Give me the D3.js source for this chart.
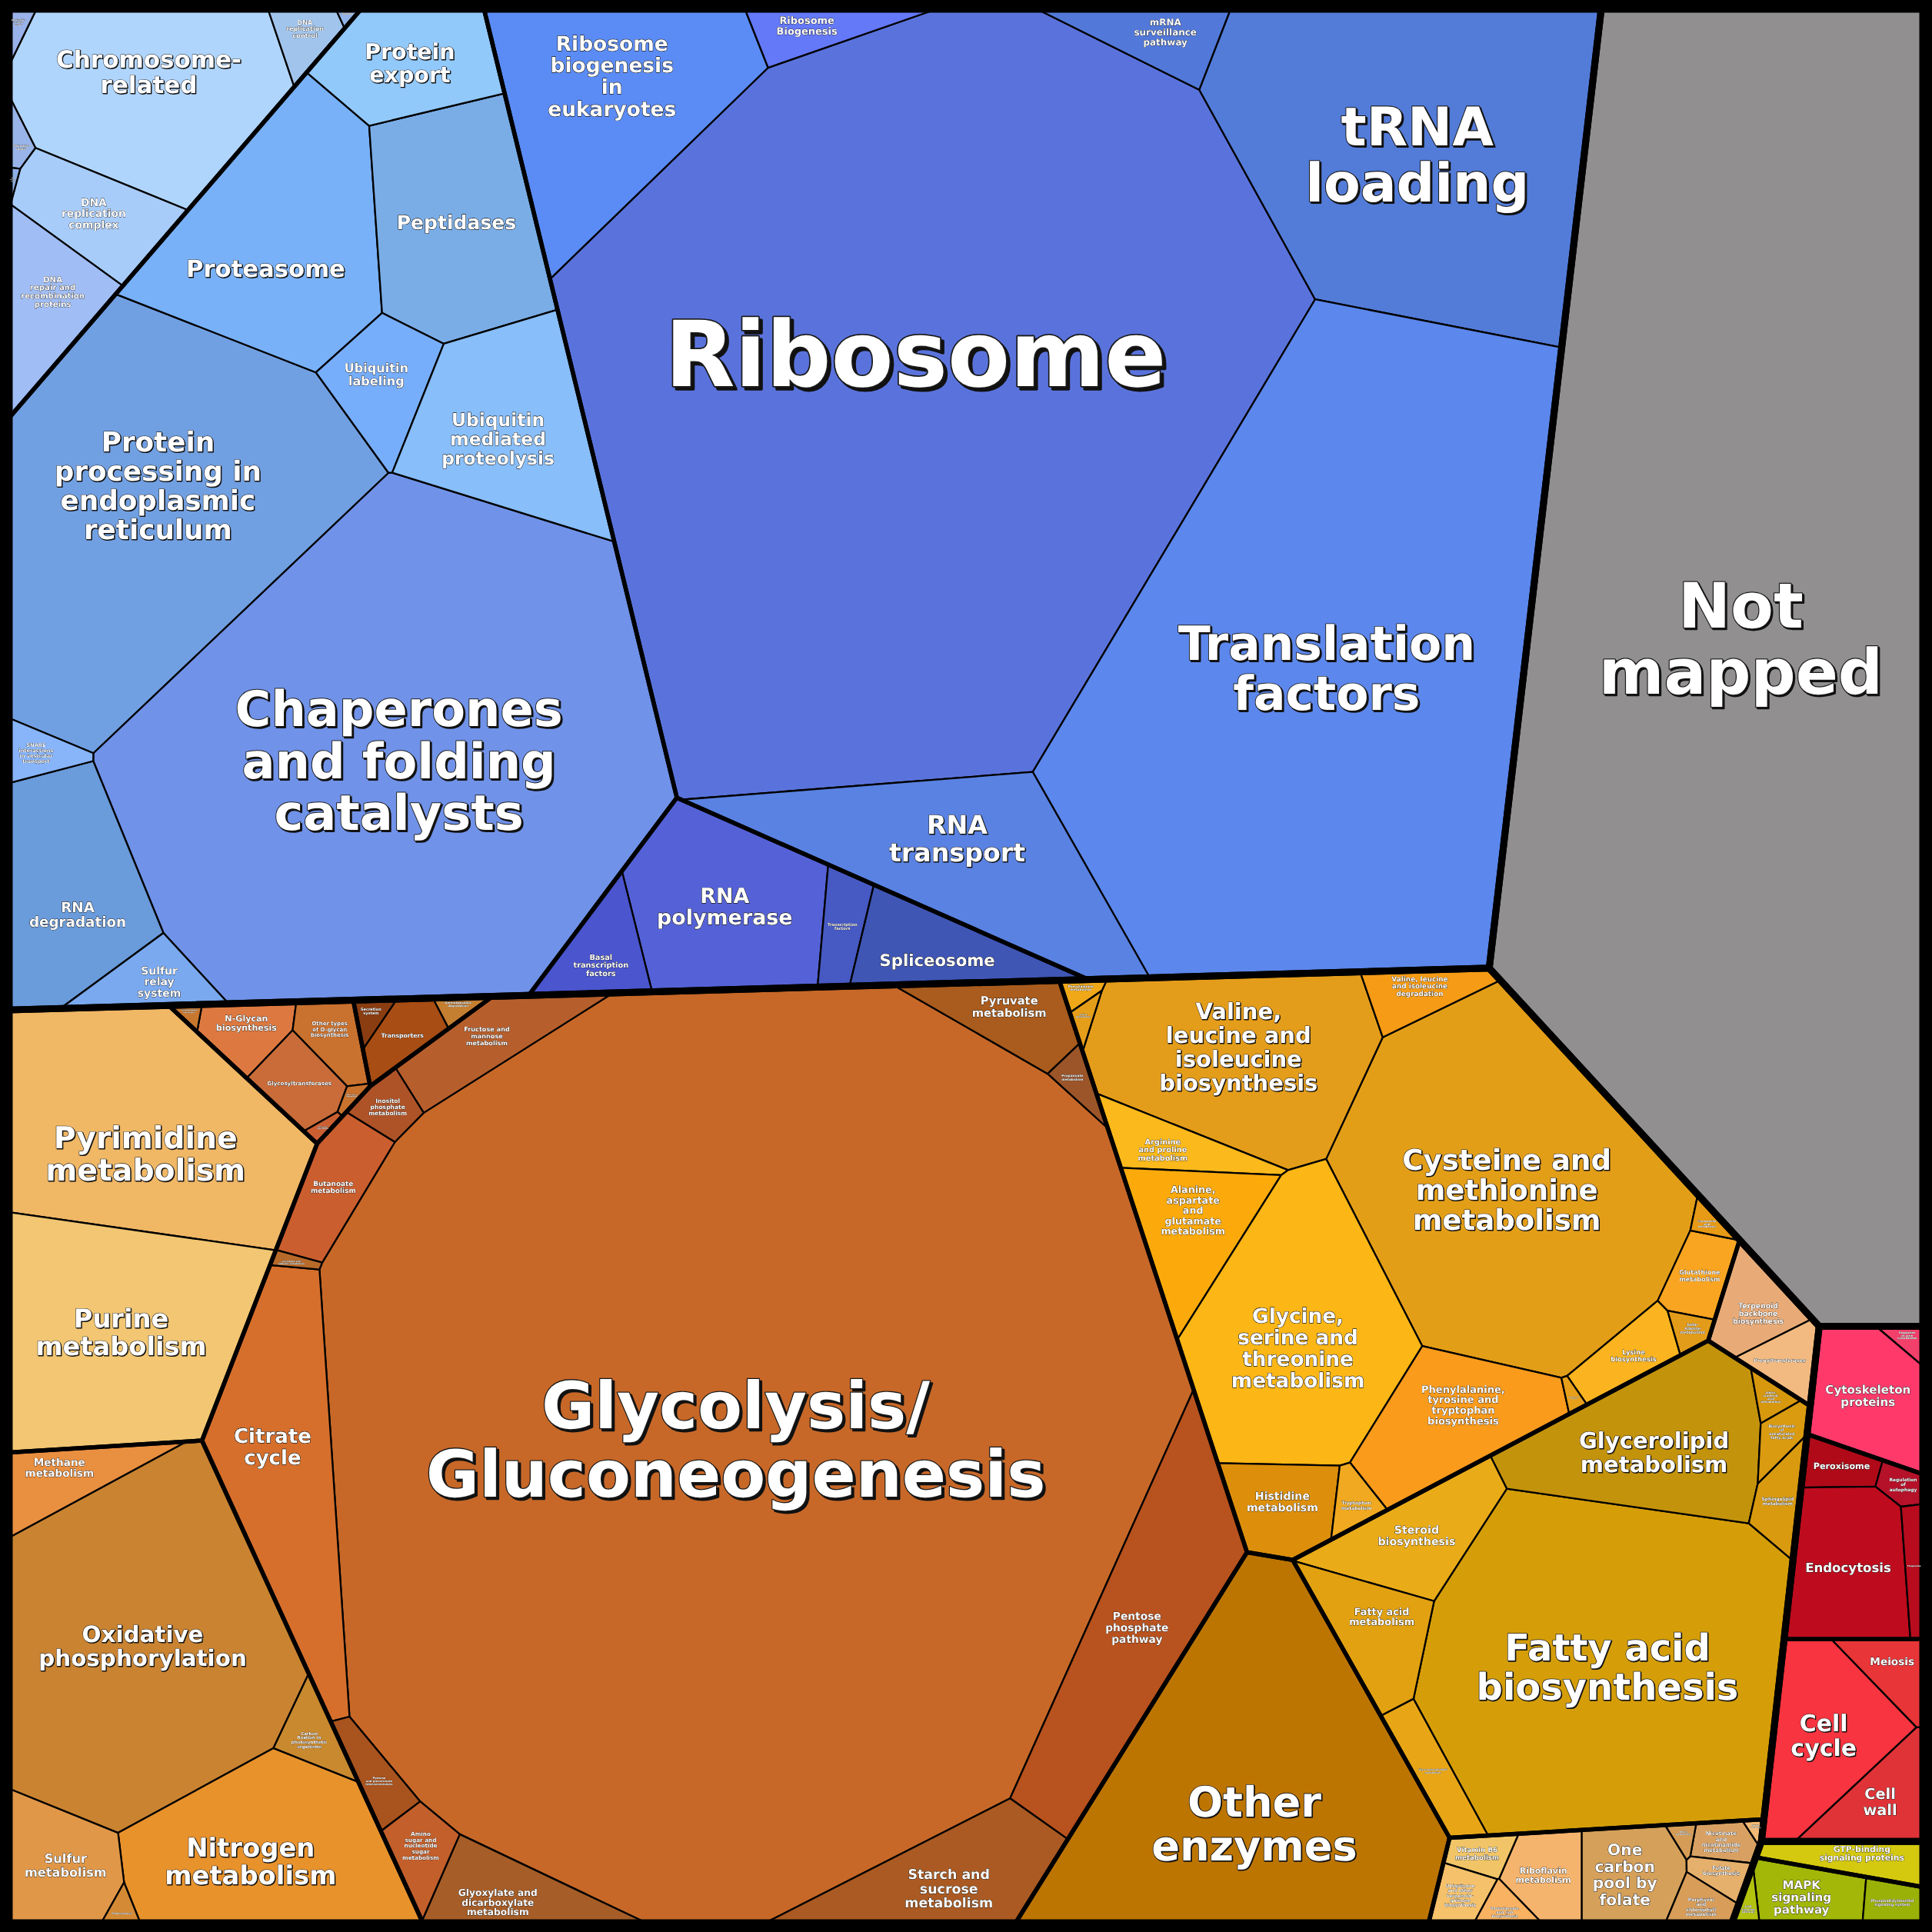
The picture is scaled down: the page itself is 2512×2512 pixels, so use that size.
<!DOCTYPE html>
<html><head><meta charset="utf-8">
<script src="https://cdn.jsdelivr.net/npm/d3@7"></script>
<style>html,body{margin:0;padding:0;background:#000;}svg{display:block}</style>
</head><body>
<svg id="chart" width="2512" height="2512"></svg>
<script>
// ---------------- DATA ----------------
const categories = ["Genetic Information Processing","Not mapped","Metabolism","Cellular Processes","Environmental Information Processing"];

const groups = [
  ["Translation","Genetic Information Processing"],
  ["Transcription","Genetic Information Processing"],
  ["Folding, sorting and degradation","Genetic Information Processing"],
  ["Replication and repair","Genetic Information Processing"],
  ["Not mapped group","Not mapped"],
  ["Carbohydrate metabolism","Metabolism"],
  ["Energy metabolism","Metabolism"],
  ["Nucleotide metabolism","Metabolism"],
  ["Glycan biosynthesis and metabolism","Metabolism"],
  ["Membrane transport","Metabolism"],
  ["Amino acid metabolism","Metabolism"],
  ["Lipid metabolism","Metabolism"],
  ["Metabolism of terpenoids and polyketides","Metabolism"],
  ["Metabolism of cofactors and vitamins","Metabolism"],
  ["Other enzymes group","Metabolism"],
  ["Cell motility","Cellular Processes"],
  ["Transport and catabolism","Cellular Processes"],
  ["Cell growth and death","Cellular Processes"],
  ["Signaling molecules and interaction","Environmental Information Processing"],
  ["Signal transduction","Environmental Information Processing"]
];

// [pathway, group, abundance (relative units)]
const pathways = [
  ["Ribosome","Translation",280],
  ["tRNA loading","Translation",69],
  ["Translation factors","Translation",165],
  ["RNA transport","Translation",29],
  ["Ribosome biogenesis in eukaryotes","Translation",29],
  ["Ribosome Biogenesis","Translation",3.6],
  ["mRNA surveillance pathway","Translation",5.1],
  ["RNA polymerase","Transcription",20],
  ["Basal transcription factors","Transcription",5],
  ["Transcription factors","Transcription",3],
  ["Spliceosome","Transcription",8],
  ["Chaperones and folding catalysts","Folding, sorting and degradation",144],
  ["Protein processing in endoplasmic reticulum","Folding, sorting and degradation",71],
  ["Proteasome","Folding, sorting and degradation",30],
  ["Peptidases","Folding, sorting and degradation",23],
  ["Protein export","Folding, sorting and degradation",11],
  ["Ubiquitin labeling","Folding, sorting and degradation",7],
  ["Ubiquitin mediated proteolysis","Folding, sorting and degradation",20],
  ["RNA degradation","Folding, sorting and degradation",18],
  ["Sulfur relay system","Folding, sorting and degradation",4],
  ["SNARE interactions in vesicular transport","Folding, sorting and degradation",2],
  ["Chromosome-related","Replication and repair",27.5],
  ["DNA replication control","Replication and repair",2.2],
  ["DNA replication complex","Replication and repair",8],
  ["DNA repair and recombination proteins","Replication and repair",8],
  ["Nucleotide excision repair","Replication and repair",0.5],
  ["Mismatch repair","Replication and repair",0.7],
  ["Base excision repair","Replication and repair",0.15],
  ["Homologous recombination","Replication and repair",0.15],
  ["Not mapped","Not mapped group",303],
  ["Glycolysis/Gluconeogenesis","Carbohydrate metabolism",420],
  ["Citrate cycle","Carbohydrate metabolism",24],
  ["Pentose phosphate pathway","Carbohydrate metabolism",25],
  ["Pyruvate metabolism","Carbohydrate metabolism",6],
  ["Starch and sucrose metabolism","Carbohydrate metabolism",12.6],
  ["Glyoxylate and dicarboxylate metabolism","Carbohydrate metabolism",6.5],
  ["Amino sugar and nucleotide sugar metabolism","Carbohydrate metabolism",3],
  ["Pentose and glucuronate interconversions","Carbohydrate metabolism",2.5],
  ["Fructose and mannose metabolism","Carbohydrate metabolism",6.7],
  ["Butanoate metabolism","Carbohydrate metabolism",5.7],
  ["Inositol phosphate metabolism","Carbohydrate metabolism",2],
  ["Propanoate metabolism","Carbohydrate metabolism",1.2],
  ["Ascorbate and aldarate metabolism","Carbohydrate metabolism",0.4],
  ["Oxidative phosphorylation","Energy metabolism",55],
  ["Nitrogen metabolism","Energy metabolism",25],
  ["Sulfur metabolism","Energy metabolism",8],
  ["Methane metabolism","Energy metabolism",5],
  ["Carbon fixation in photosynthetic organisms","Energy metabolism",2.5],
  ["Photosynthesis","Energy metabolism",0.5],
  ["Pyrimidine metabolism","Nucleotide metabolism",38],
  ["Purine metabolism","Nucleotide metabolism",33],
  ["N-Glycan biosynthesis","Glycan biosynthesis and metabolism",3.2],
  ["Other types of O-glycan biosynthesis","Glycan biosynthesis and metabolism",2.8],
  ["Glycosyltransferases","Glycan biosynthesis and metabolism",3.5],
  ["Other glycan degradation","Glycan biosynthesis and metabolism",0.3],
  ["GPI-anchor biosynthesis","Glycan biosynthesis and metabolism",0.3],
  ["Glycosphingolipid biosynthesis","Glycan biosynthesis and metabolism",0.3],
  ["Transporters","Membrane transport",2.6],
  ["Secretion system","Membrane transport",0.7],
  ["Aminobenzoate degradation","Membrane transport",0.6],
  ["Cysteine and methionine metabolism","Amino acid metabolism",62],
  ["Valine, leucine and isoleucine biosynthesis","Amino acid metabolism",29],
  ["Valine, leucine and isoleucine degradation","Amino acid metabolism",3.5],
  ["Arginine and proline metabolism","Amino acid metabolism",4.4],
  ["Alanine, aspartate and glutamate metabolism","Amino acid metabolism",9],
  ["Glycine, serine and threonine metabolism","Amino acid metabolism",32],
  ["Phenylalanine, tyrosine and tryptophan biosynthesis","Amino acid metabolism",12.9],
  ["Histidine metabolism","Amino acid metabolism",6],
  ["Tryptophan metabolism","Amino acid metabolism",1.5],
  ["Lysine biosynthesis","Amino acid metabolism",3.5],
  ["Glutathione metabolism","Amino acid metabolism",3],
  ["beta-Alanine metabolism","Amino acid metabolism",0.8],
  ["Cyanoamino acid metabolism","Amino acid metabolism",0.6],
  ["Phenylalanine metabolism","Amino acid metabolism",0.6],
  ["Lysine degradation","Amino acid metabolism",0.5],
  ["Selenocompound metabolism","Amino acid metabolism",0.3],
  ["Fatty acid biosynthesis","Lipid metabolism",70],
  ["Glycerolipid metabolism","Lipid metabolism",20],
  ["Steroid biosynthesis","Lipid metabolism",9],
  ["Fatty acid metabolism","Lipid metabolism",7],
  ["Glycerophospholipid metabolism","Lipid metabolism",3.5],
  ["Sphingolipid metabolism","Lipid metabolism",2.5],
  ["Biosynthesis of unsaturated fatty acids","Lipid metabolism",1.5],
  ["alpha-Linolenic acid metabolism","Lipid metabolism",0.8],
  ["Terpenoid backbone biosynthesis","Metabolism of terpenoids and polyketides",4],
  ["Prenyltransferases","Metabolism of terpenoids and polyketides",2.4],
  ["One carbon pool by folate","Metabolism of cofactors and vitamins",6],
  ["Riboflavin metabolism","Metabolism of cofactors and vitamins",4],
  ["Vitamin B6 metabolism","Metabolism of cofactors and vitamins",1.5],
  ["Ubiquinone and other terpenoid-quinone biosynthesis","Metabolism of cofactors and vitamins",1.8],
  ["Pantothenate and CoA biosynthesis","Metabolism of cofactors and vitamins",1],
  ["Nicotinate and nicotinamide metabolism","Metabolism of cofactors and vitamins",1.5],
  ["Folate biosynthesis","Metabolism of cofactors and vitamins",1.2],
  ["Porphyrin and chlorophyll metabolism","Metabolism of cofactors and vitamins",1.5],
  ["Biotin metabolism","Metabolism of cofactors and vitamins",0.4],
  ["Thiamine metabolism","Metabolism of cofactors and vitamins",0.2],
  ["Other enzymes","Other enzymes group",62],
  ["Cytoskeleton proteins","Cell motility",8.6],
  ["Regulation of actin cytoskeleton","Cell motility",0.6],
  ["Peroxisome","Transport and catabolism",2],
  ["Regulation of autophagy","Transport and catabolism",1],
  ["Endocytosis","Transport and catabolism",11],
  ["Phagosome","Transport and catabolism",1.5],
  ["Cell cycle","Cell growth and death",12],
  ["Meiosis","Cell growth and death",2.8],
  ["Cell wall","Cell growth and death",5],
  ["GTP-binding signaling proteins","Signaling molecules and interaction",3.2],
  ["MAPK signaling pathway","Signal transduction",3.8],
  ["Phosphatidylinositol signaling system","Signal transduction",1.5],
  ["ErbB signaling pathway","Signal transduction",0.5]
];

// ---------------- STYLE ----------------
const pathwayColor = {
  "Ribosome":"#5A73DC","tRNA loading":"#537CD9","Translation factors":"#5C87EC","RNA transport":"#5A82E2",
  "Ribosome biogenesis in eukaryotes":"#5B8CF6","Ribosome Biogenesis":"#6479F8","mRNA surveillance pathway":"#5279D9",
  "RNA polymerase":"#5562D7","Basal transcription factors":"#4A55CE","Transcription factors":"#4759C2","Spliceosome":"#3F56B5",
  "Chaperones and folding catalysts":"#7092E8","Protein processing in endoplasmic reticulum":"#71A0E2","Proteasome":"#78B1F8",
  "Peptidases":"#7AADE6","Protein export":"#92C9FB","Ubiquitin labeling":"#77AEFB","Ubiquitin mediated proteolysis":"#88BEF9",
  "RNA degradation":"#6A9BDA","Sulfur relay system":"#7AA9EF","SNARE interactions in vesicular transport":"#88B5FA",
  "Chromosome-related":"#B0D5FD","DNA replication control":"#A1C4EC","DNA replication complex":"#A8CCF9",
  "DNA repair and recombination proteins":"#A0BDF5","Nucleotide excision repair":"#9AB2EA","Mismatch repair":"#98B4E8",
  "Base excision repair":"#8FB0E6","Homologous recombination":"#92B4E8",
  "Not mapped":"#918F90",
  "Glycolysis/Gluconeogenesis":"#C76828","Citrate cycle":"#D66F2C","Pentose phosphate pathway":"#B8521E","Pyruvate metabolism":"#A95C1D",
  "Starch and sucrose metabolism":"#AA5A22","Glyoxylate and dicarboxylate metabolism":"#A65D27","Amino sugar and nucleotide sugar metabolism":"#C25F2B",
  "Pentose and glucuronate interconversions":"#A9531E","Fructose and mannose metabolism":"#B75F2C","Butanoate metabolism":"#CB5E2E",
  "Inositol phosphate metabolism":"#AE5328","Propanoate metabolism":"#9C5528","Ascorbate and aldarate metabolism":"#B86A2A",
  "Oxidative phosphorylation":"#C98331","Nitrogen metabolism":"#E8922C","Sulfur metabolism":"#E09748","Methane metabolism":"#E98F40",
  "Carbon fixation in photosynthetic organisms":"#C9892F","Photosynthesis":"#D48A35",
  "Pyrimidine metabolism":"#F0B765","Purine metabolism":"#F2C672",
  "N-Glycan biosynthesis":"#DD7940","Other types of O-glycan biosynthesis":"#C9712E","Glycosyltransferases":"#C96C39",
  "Other glycan degradation":"#C8722E","GPI-anchor biosynthesis":"#CC5F32","Glycosphingolipid biosynthesis":"#C8782E",
  "Transporters":"#A84D14","Secretion system":"#8B3D12","Aminobenzoate degradation":"#C57F31",
  "Cysteine and methionine metabolism":"#E39E18","Valine, leucine and isoleucine biosynthesis":"#E49D1A",
  "Valine, leucine and isoleucine degradation":"#F59B15","Arginine and proline metabolism":"#FCB91B",
  "Alanine, aspartate and glutamate metabolism":"#FCAA0B","Glycine, serine and threonine metabolism":"#FCB615",
  "Phenylalanine, tyrosine and tryptophan biosynthesis":"#FA9B1C","Histidine metabolism":"#DD8F0B","Tryptophan metabolism":"#F0A920",
  "Lysine biosynthesis":"#FBB41F","Glutathione metabolism":"#F9A521","beta-Alanine metabolism":"#E39C1A","Cyanoamino acid metabolism":"#E79A16",
  "Phenylalanine metabolism":"#F0A818","Lysine degradation":"#E59E1A","Selenocompound metabolism":"#E8A01A",
  "Fatty acid biosynthesis":"#D59E09","Glycerolipid metabolism":"#C4930C","Steroid biosynthesis":"#E9AB18","Fatty acid metabolism":"#E2A111",
  "Glycerophospholipid metabolism":"#E8A617","Sphingolipid metabolism":"#D99A10","Biosynthesis of unsaturated fatty acids":"#DA9B10",
  "alpha-Linolenic acid metabolism":"#D8980E",
  "Terpenoid backbone biosynthesis":"#E8AB77","Prenyltransferases":"#F2BA80",
  "One carbon pool by folate":"#D5A05A","Riboflavin metabolism":"#F5B46D","Vitamin B6 metabolism":"#F1C567",
  "Ubiquinone and other terpenoid-quinone biosynthesis":"#F5C16A","Pantothenate and CoA biosynthesis":"#F9B261",
  "Nicotinate and nicotinamide metabolism":"#D8A163","Folate biosynthesis":"#E5AF6C","Porphyrin and chlorophyll metabolism":"#D89D59",
  "Biotin metabolism":"#D49C57","Thiamine metabolism":"#F3BA75",
  "Other enzymes":"#BD7502",
  "Cytoskeleton proteins":"#FF3A6B","Regulation of actin cytoskeleton":"#F2406A","Peroxisome":"#B00A18","Regulation of autophagy":"#B51129",
  "Endocytosis":"#BE0C1E","Phagosome":"#B80C1E","Cell cycle":"#F7343F","Meiosis":"#E83538","Cell wall":"#E03338",
  "GTP-binding signaling proteins":"#D4C90F","MAPK signaling pathway":"#A3B708","Phosphatidylinositol signaling system":"#9AB107",
  "ErbB signaling pathway":"#B3C20E"
};

// ---------------- LAYOUT HINTS (power-diagram sites, on a 1568 grid) ----------------
const seedHint = {
  "Ribosome":[742,340],"tRNA loading":[1140,120],"Translation factors":[1060,530],"RNA transport":[770,695],
  "Ribosome biogenesis in eukaryotes":[490,80],"Ribosome Biogenesis":[632,24],"mRNA surveillance pathway":[898,26],
  "RNA polymerase":[570,740],"Basal transcription factors":[450,770],"Transcription factors":[685,750],"Spliceosome":[760,768],
  "Chaperones and folding catalysts":[300,620],"Protein processing in endoplasmic reticulum":[110,420],"Proteasome":[200,190],
  "Peptidases":[345,180],"Protein export":[315,55],"Ubiquitin labeling":[290,290],"Ubiquitin mediated proteolysis":[390,330],
  "RNA degradation":[55,720],"Sulfur relay system":[110,795],"SNARE interactions in vesicular transport":[28,617],
  "Chromosome-related":[118,72],"DNA replication control":[248,28],"DNA replication complex":[78,170],
  "DNA repair and recombination proteins":[33,232],"Nucleotide excision repair":[15,22],"Mismatch repair":[15,124],
  "Base excision repair":[12,152],"Homologous recombination":[283,12],
  "Not mapped":[1411,490],
  "Glycolysis/Gluconeogenesis":[612,1175],"Citrate cycle":[240,1200],"Pentose phosphate pathway":[935,1320],"Pyruvate metabolism":[815,822],
  "Starch and sucrose metabolism":[790,1525],"Glyoxylate and dicarboxylate metabolism":[440,1537],"Amino sugar and nucleotide sugar metabolism":[346,1496],
  "Pentose and glucuronate interconversions":[300,1435],"Fructose and mannose metabolism":[400,840],"Butanoate metabolism":[272,970],
  "Inositol phosphate metabolism":[322,889],"Propanoate metabolism":[875,885],"Ascorbate and aldarate metabolism":[228,1020],
  "Oxidative phosphorylation":[125,1345],"Nitrogen metabolism":[215,1510],"Sulfur metabolism":[50,1530],"Methane metabolism":[40,1188],
  "Carbon fixation in photosynthetic organisms":[256,1407],"Photosynthesis":[98,1557],
  "Pyrimidine metabolism":[120,905],"Purine metabolism":[95,1080],
  "N-Glycan biosynthesis":[189,826],"Other types of O-glycan biosynthesis":[273,837],"Glycosyltransferases":[237,872],
  "Other glycan degradation":[283,891],"GPI-anchor biosynthesis":[261,915],"Glycosphingolipid biosynthesis":[151,819],
  "Transporters":[330,836],"Secretion system":[302,817],"Aminobenzoate degradation":[378,811],
  "Cysteine and methionine metabolism":[1231,967],"Valine, leucine and isoleucine biosynthesis":[990,855],
  "Valine, leucine and isoleucine degradation":[1150,800],"Arginine and proline metabolism":[958,935],
  "Alanine, aspartate and glutamate metabolism":[955,1000],"Glycine, serine and threonine metabolism":[1050,1060],
  "Phenylalanine, tyrosine and tryptophan biosynthesis":[1190,1147],"Histidine metabolism":[1047,1214],"Tryptophan metabolism":[1098,1220],
  "Lysine biosynthesis":[1334,1091],"Glutathione metabolism":[1407,1043],"beta-Alanine metabolism":[1379,1078],"Cyanoamino acid metabolism":[1394,1001],
  "Phenylalanine metabolism":[864,797],"Lysine degradation":[864,809],"Selenocompound metabolism":[1282,1127],
  "Fatty acid biosynthesis":[1300,1360],"Glycerolipid metabolism":[1330,1150],"Steroid biosynthesis":[1130,1250],"Fatty acid metabolism":[1110,1320],
  "Glycerophospholipid metabolism":[1168,1432],"Sphingolipid metabolism":[1454,1178],"Biosynthesis of unsaturated fatty acids":[1431,1155],
  "alpha-Linolenic acid metabolism":[1419,1134],
  "Terpenoid backbone biosynthesis":[1432,1087],"Prenyltransferases":[1452,1127],
  "One carbon pool by folate":[1314,1526],"Riboflavin metabolism":[1239,1526],"Vitamin B6 metabolism":[1193,1506],
  "Ubiquinone and other terpenoid-quinone biosynthesis":[1182,1542],"Pantothenate and CoA biosynthesis":[1208,1556],
  "Nicotinate and nicotinamide metabolism":[1402,1498],"Folate biosynthesis":[1399,1525],"Porphyrin and chlorophyll metabolism":[1381,1554],
  "Biotin metabolism":[1369,1492],"Thiamine metabolism":[1428,1485],
  "Other enzymes":[1030,1460],
  "Cytoskeleton proteins":[1515,1125],"Regulation of actin cytoskeleton":[1554,1079],"Peroxisome":[1499,1186],"Regulation of autophagy":[1549,1200],
  "Endocytosis":[1500,1262],"Phagosome":[1556,1258],"Cell cycle":[1480,1400],"Meiosis":[1541,1341],"Cell wall":[1541,1465],
  "GTP-binding signaling proteins":[1495,1503],"MAPK signaling pathway":[1467,1544],"Phosphatidylinositol signaling system":[1541,1550],
  "ErbB signaling pathway":[1412,1550]
};
const groupSiteHint = {
  "Genetic Information Processing":[640,400],"Metabolism":[662,1180],
  "Cellular Processes":[1411,1264],"Environmental Information Processing":[1411,1450],
  "Translation":[862,362],"Folding, sorting and degradation":[265,508],"Transcription":[665,808],"Replication and repair":[20,297],
  "Carbohydrate metabolism":[590,1180],"Nucleotide metabolism":[100,990],"Energy metabolism":[125,1393],
  "Amino acid metabolism":[1126,1004],"Lipid metabolism":[1296,1326],"Other enzymes group":[1048,1466],
  "Metabolism of cofactors and vitamins":[1308,1530],
  "Cell motility":[1550,1120],"Transport and catabolism":[1505,1250],"Cell growth and death":[1505,1400],
  "Signaling molecules and interaction":[1500,1500],"Signal transduction":[1492,1545]
};

// ---------------- BUILD ----------------
const W = 2512, H = 2512, PAD = 12;
const ref = d3.scaleLinear().domain([0, 1568]).range([0, W]);

const catMap = new Map(categories.map(c => [c, {name:c, level:1, children:[]}]));
const grpMap = new Map();
groups.forEach(([g, c]) => { const n = {name:g, level:2, children:[]}; grpMap.set(g, n); catMap.get(c).children.push(n); });
pathways.forEach(([p, g, v]) => grpMap.get(g).children.push({name:p, level:3, value:v}));
const root = {name:"root", level:0, children:[...catMap.values()]};

function agg(n) {
  if (!n.children) { const h = seedHint[n.name]; n.mean = [ref(h[0]), ref(h[1])]; n.site = n.mean; n.fixed = false; return; }
  n.children.forEach(agg);
  n.value = d3.sum(n.children, c => c.value);
  n.mean = [d3.sum(n.children, c => c.value * c.mean[0]) / n.value,
            d3.sum(n.children, c => c.value * c.mean[1]) / n.value];
  const o = groupSiteHint[n.name];
  n.site = o ? [ref(o[0]), ref(o[1])] : n.mean;
  n.fixed = !!o;
}
agg(root);

// ---------------- POWER-DIAGRAM TREEMAP ----------------
function clipHalfL(poly, lab, a, b, c, j) {
  const out = [], ol = [], n = poly.length;
  for (let i = 0; i < n; i++) {
    const P = poly[i], Q = poly[(i + 1) % n], L = lab[i];
    const dp = a * P[0] + b * P[1] - c, dq = a * Q[0] + b * Q[1] - c;
    const pin = dp <= 0, qin = dq <= 0;
    if (pin) {
      out.push(P); ol.push(L);
      if (!qin) { const t = dp / (dp - dq); out.push([P[0] + t * (Q[0] - P[0]), P[1] + t * (Q[1] - P[1])]); ol.push(j); }
    } else if (qin) {
      const t = dp / (dp - dq); out.push([P[0] + t * (Q[0] - P[0]), P[1] + t * (Q[1] - P[1])]); ol.push(L);
    }
  }
  return [out, ol];
}
function powerCells(sites, clip) {
  return sites.map((s, i) => {
    let cell = clip.slice(), lab = clip.map(() => -1);
    for (let j = 0; j < sites.length && cell.length >= 3; j++) {
      if (j === i) continue;
      const t = sites[j];
      const a = 2 * (t.x - s.x), b = 2 * (t.y - s.y);
      if (a === 0 && b === 0) continue;
      const c = (t.x * t.x + t.y * t.y - t.w) - (s.x * s.x + s.y * s.y - s.w);
      [cell, lab] = clipHalfL(cell, lab, a, b, c, j);
    }
    cell.lab = lab;
    return cell;
  });
}
const parea = p => p.length >= 3 ? Math.abs(d3.polygonArea(p)) : 0;

// diagonal Newton solve of the power weights so that every cell gets its target area
function solveWeights(sites, clip, iters, tol) {
  const A = parea(clip);
  let cells = powerCells(sites, clip), best = cells, bestErr = Infinity;
  for (let it = 0; it < iters; it++) {
    const areas = cells.map(parea);
    const err = d3.sum(areas, (a, i) => Math.abs(a - sites[i].target)) / A / 2;
    if (err < bestErr && areas.every(a => a > 0)) { bestErr = err; best = cells; }
    if (err < tol) break;
    const damp = it < 40 ? 0.5 : 0.7;
    const nw = sites.map((s, i) => {
      const cell = cells[i];
      if (areas[i] <= 1e-9) {
        let m = -Infinity;
        sites.forEach((t, j) => { if (j !== i) m = Math.max(m, t.w - ((t.x - s.x) ** 2 + (t.y - s.y) ** 2)); });
        return m + 1;
      }
      let D = 0;
      for (let k = 0; k < cell.length; k++) {
        const j = cell.lab[k];
        if (j < 0) continue;
        const P = cell[k], Q = cell[(k + 1) % cell.length];
        D += Math.hypot(Q[0] - P[0], Q[1] - P[1]) / (2 * Math.hypot(sites[j].x - s.x, sites[j].y - s.y));
      }
      if (D <= 0) return s.w;
      return s.w + damp * (s.target - areas[i]) / D;
    });
    sites.forEach((s, i) => s.w = nw[i]);
    cells = powerCells(sites, clip);
  }
  return best;
}
function powerTreemap(clip, pts, values) {
  const A = parea(clip), tot = d3.sum(values);
  const sites = pts.map((p, i) => ({x:p[0], y:p[1], w:0, target:A * values[i] / tot}));
  return solveWeights(sites, clip, 800, 0.0005).map(c => c.map(p => p));
}
function pullInside(poly, p, c) {
  if (d3.polygonContains(poly, p)) return p;
  let lo = 0, hi = 1;
  for (let k = 0; k < 30; k++) {
    const m = (lo + hi) / 2;
    if (d3.polygonContains(poly, [c[0] + m * (p[0] - c[0]), c[1] + m * (p[1] - c[1])])) lo = m; else hi = m;
  }
  const t = lo * 0.95;
  return [c[0] + t * (p[0] - c[0]), c[1] + t * (p[1] - c[1])];
}
function layout(node, clip, isRoot) {
  node.poly = clip;
  if (!node.children) return;
  if (node.children.length === 1) { layout(node.children[0], clip, false); return; }
  const c = d3.polygonCentroid(clip);
  const dx = isRoot ? 0 : c[0] - node.mean[0], dy = isRoot ? 0 : c[1] - node.mean[1];
  const pts = node.children.map(ch => {
    const p = [ch.site[0] + dx, ch.site[1] + dy];
    return ch.fixed ? p : pullInside(clip, p, c);
  });
  const cells = powerTreemap(clip, pts, node.children.map(ch => ch.value));
  node.children.forEach((ch, i) => layout(ch, cells[i], false));
}
const frame = [[PAD, PAD], [W - PAD, PAD], [W - PAD, H - PAD], [PAD, H - PAD]];
layout(root, frame, true);

const cats = root.children;
const grps = cats.flatMap(c => c.children);
const leaves = grps.flatMap(g => g.children).filter(d => d.poly && d.poly.length >= 3);

// ---------------- DRAW ----------------
const svg = d3.select("#chart");
svg.append("rect").attr("width", W).attr("height", H).attr("fill", "#000");
const line = d3.line().curve(d3.curveLinearClosed);

svg.append("g").selectAll("path").data(leaves).join("path")
  .attr("d", d => line(d.poly)).attr("fill", d => pathwayColor[d.name])
  .attr("stroke", "#000").attr("stroke-width", 2.3).attr("stroke-linejoin", "round");
svg.append("g").selectAll("path").data(grps.filter(d => d.poly && d.poly.length >= 3)).join("path")
  .attr("d", d => line(d.poly)).attr("fill", "none")
  .attr("stroke", "#000").attr("stroke-width", 5.5).attr("stroke-linejoin", "round");
svg.append("g").selectAll("path").data(cats).join("path")
  .attr("d", d => line(d.poly)).attr("fill", "none")
  .attr("stroke", "#000").attr("stroke-width", 9).attr("stroke-linejoin", "round");
svg.append("rect").attr("x", 6).attr("y", 6).attr("width", W - 12).attr("height", H - 12)
  .attr("fill", "none").attr("stroke", "#000").attr("stroke-width", 13);

// ---------------- LABELS ----------------
const ctx = document.createElement("canvas").getContext("2d");
ctx.font = "bold 100px 'DejaVu Sans'";
const tw = s => ctx.measureText(s).width / 100;
function tokenize(name) {
  const out = [];
  name.split(" ").forEach((w, wi) => {
    w.split(/(?<=[-\/])/).forEach((p, pi) => out.push({t:p, sp: wi > 0 && pi === 0}));
  });
  return out;
}
const joinT = ts => ts.map((x, i) => (i > 0 && x.sp ? " " : "") + x.t).join("");
function splits(toks, k) {
  const n = toks.length, res = [];
  function rec(start, left, acc) {
    if (left === 1) { res.push([...acc, toks.slice(start)]); return; }
    for (let e = start + 1; e <= n - left + 1; e++) rec(e, left - 1, [...acc, toks.slice(start, e)]);
  }
  rec(0, k, []);
  return res.map(ls => ls.map(joinT));
}
function maxScale(poly, c, w, h) {
  let s = Infinity;
  for (let i = 0; i < poly.length; i++) {
    const P = poly[i], Q = poly[(i + 1) % poly.length];
    const nx = Q[1] - P[1], ny = -(Q[0] - P[0]);
    const g = nx * (c[0] - P[0]) + ny * (c[1] - P[1]);
    const den = Math.abs(nx) * w / 2 + Math.abs(ny) * h / 2;
    if (den > 0) s = Math.min(s, Math.abs(g) / den);
  }
  return s;
}
const LH = 1.06;
function fitLabel(node) {
  const poly = node.poly, A = parea(poly);
  const c0 = d3.polygonCentroid(poly);
  const xs = poly.map(p => p[0]), ys = poly.map(p => p[1]);
  const bw = d3.max(xs) - d3.min(xs), bh = d3.max(ys) - d3.min(ys);
  const cap = 0.17 * Math.sqrt(A);
  const toks = tokenize(node.name);
  let best = {fs:0, lines:[node.name], c:c0};
  for (let k = 1; k <= Math.min(toks.length, 6); k++) {
    let bl = null, bwid = Infinity;
    splits(toks, k).forEach(ls => { const m = d3.max(ls, tw); if (m < bwid) { bwid = m; bl = ls; } });
    const hh = (k - 1) * LH + 1.0;
    for (let ix = -2; ix <= 2; ix++) for (let iy = -2; iy <= 2; iy++) {
      const c = [c0[0] + ix * 0.05 * bw, c0[1] + iy * 0.05 * bh];
      if (!d3.polygonContains(poly, c)) continue;
      const pen = 1 - 0.03 * (Math.abs(ix) + Math.abs(iy));
      const fs = Math.min(maxScale(poly, c, bwid, hh) * 0.78, cap) * pen;
      if (fs > best.fs * 1.0001) best = {fs, lines:bl, c};
    }
  }
  return best;
}
const lg = svg.append("g").attr("font-family", "'DejaVu Sans', Verdana, sans-serif")
  .attr("font-weight", "bold").attr("text-anchor", "middle").attr("text-rendering", "geometricPrecision");
leaves.forEach(node => {
  const L = fitLabel(node);
  const fs = L.fs, d = Math.max(0.6, fs * 0.035);
  const tx = lg.append("text")
    .attr("transform", `translate(${L.c[0].toFixed(1)},${L.c[1].toFixed(1)})`)
    .attr("font-size", fs.toFixed(2))
    .attr("fill", "#fff").attr("stroke", "#1a1a1a").attr("stroke-width", (fs * 0.03).toFixed(2))
    .attr("paint-order", "stroke").attr("stroke-linejoin", "round")
    .style("filter", `drop-shadow(${d.toFixed(1)}px ${d.toFixed(1)}px 0px #111)`);
  L.lines.forEach((ln, i) => {
    const y = (i - (L.lines.length - 1) / 2) * LH * fs;
    tx.append("tspan").attr("x", 0).attr("y", y.toFixed(1)).attr("dy", "0.36em").text(ln);
  });
});
</script>
</body></html>
